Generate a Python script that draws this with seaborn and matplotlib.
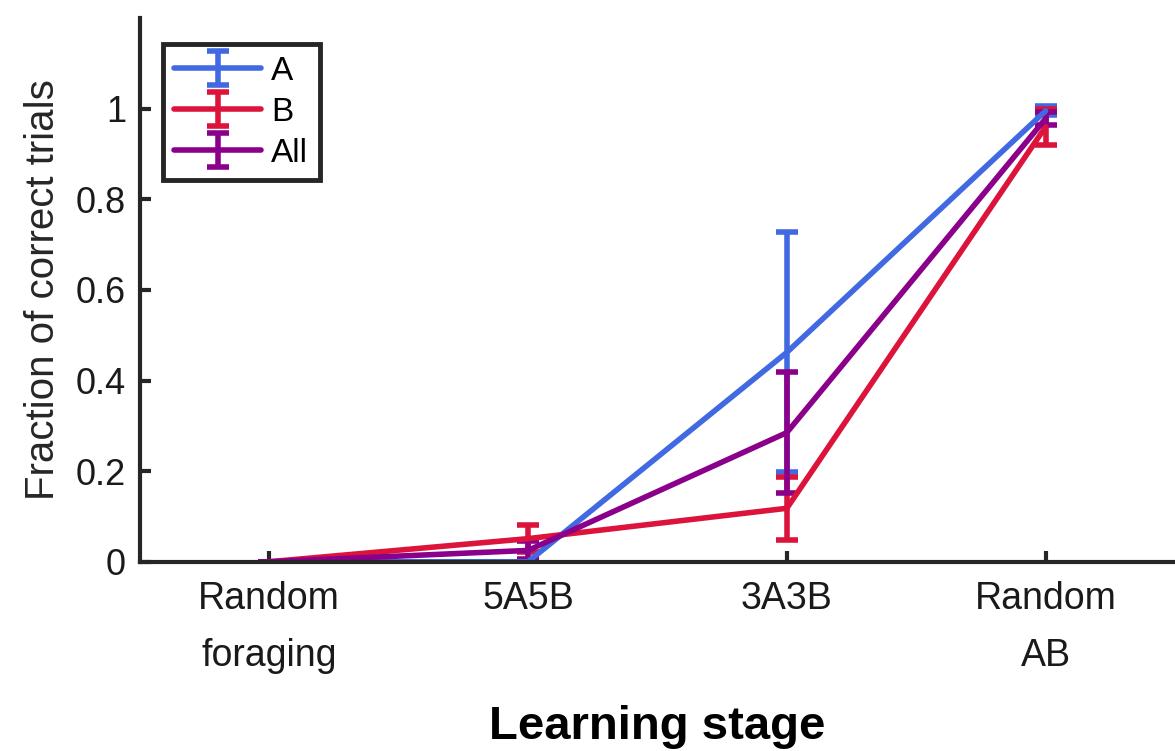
import numpy as np
import matplotlib
matplotlib.use('Agg')
import matplotlib.pyplot as plt
import seaborn as sns

# 학습 단계별 정답률
stages = ['Random\nforaging', '5A5B', '3A3B', 'Random\nAB']
a_mean = [0.0, 0.0, 0.462, 0.995]
a_err = [0.0, 0.0, 0.265, 0.01]
b_mean = [0.0, 0.051, 0.118, 0.96]
b_err = [0.0, 0.03, 0.07, 0.04]
all_mean = [0.0, 0.025, 0.285, 0.978]
all_err = [0.0, 0.02, 0.134, 0.015]

sns.set_style('ticks')
plt.rcParams['font.family'] = ['Liberation Sans', 'DejaVu Sans']

fig = plt.figure(figsize=(11.75, 7.51), dpi=100)
ax = fig.add_axes([0.119, 0.252, 0.881, 0.724])

x = np.arange(1, len(stages) + 1)
series = [('A', a_mean, a_err, '#4169E1'),
          ('B', b_mean, b_err, '#DC143C'),
          ('All', all_mean, all_err, '#8B008B')]
for name, m, e, c in series:
    ax.errorbar(x, m, yerr=e, color=c, lw=4, capsize=8, capthick=4,
                elinewidth=4, label=name)

ax.set_xlim(0.5, 4.5)
ax.set_ylim(0, 1.2)
ax.set_xticks(x)
ax.set_xticklabels(stages, fontsize=27, linespacing=1.75)
ax.set_yticks([0, 0.2, 0.4, 0.6, 0.8, 1])
ax.set_yticklabels(['0', '0.2', '0.4', '0.6', '0.8', '1'], fontsize=26)
ax.tick_params(direction='in', length=8, width=3, colors='#262626',
               labelcolor='#1a1a1a', pad=14)
ax.tick_params(axis='y', pad=10)
for s in ['left', 'bottom']:
    ax.spines[s].set_linewidth(3)
    ax.spines[s].set_color('#262626')
sns.despine(ax=ax)

ax.set_ylabel('Fraction of correct trials', fontsize=29, color='#262626',
              labelpad=10)
ax.set_xlabel('Learning stage', fontsize=34, fontweight='bold', labelpad=22,
              color='black')

leg = ax.legend(loc='upper left', bbox_to_anchor=(0.022, 0.952), fontsize=24,
                fancybox=False, framealpha=1, handlelength=2.6,
                handletextpad=0.3, borderpad=0.35, labelspacing=0.3,
                borderaxespad=0)
leg.get_frame().set_edgecolor('#262626')
leg.get_frame().set_linewidth(3.5)
for t in leg.get_texts():
    t.set_color('black')

fig.savefig('out.png', dpi=100)
